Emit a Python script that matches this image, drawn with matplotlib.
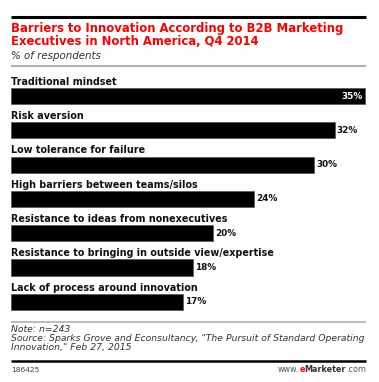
import matplotlib
matplotlib.use("Agg")
import matplotlib.pyplot as plt
from matplotlib.lines import Line2D

categories = [
    "Traditional mindset",
    "Risk aversion",
    "Low tolerance for failure",
    "High barriers between teams/silos",
    "Resistance to ideas from nonexecutives",
    "Resistance to bringing in outside view/expertise",
    "Lack of process around innovation",
]
values = [35, 32, 30, 24, 20, 18, 17]

title = "Barriers to Innovation According to B2B Marketing\nExecutives in North America, Q4 2014"
subtitle = "% of respondents"
note = ("Note: n=243\n"
        "Source: Sparks Grove and Econsultancy, \"The Pursuit of Standard Operating\n"
        "Innovation,\" Feb 27, 2015")
chart_id = "186425"

W, H = 379, 382
plt.rcParams["font.family"] = ["DejaVu Sans"]
fig = plt.figure(figsize=(W / 100, H / 100), dpi=100)
fig.patch.set_facecolor("white")


def fx(px):
    return px / W


def fy(py):
    return 1 - py / H


def hline(y, lw, color, x0=11, x1=366):
    fig.add_artist(Line2D([fx(x0), fx(x1)], [fy(y), fy(y)], lw=lw, color=color,
                          transform=fig.transFigure, solid_capstyle="butt"))


# header
hline(17, 2.2, "black")
fig.text(fx(11), fy(22), title, color="#ff0000", fontsize=8.4, fontweight="bold",
         va="top", ha="left", linespacing=1.0)
fig.text(fx(11), fy(51), subtitle, color="#333333", fontsize=7.4, style="italic",
         va="top", ha="left")
hline(66, 1.5, "#b0b0b0")

# bars
top_px, bot_px = 68.6, 319
ax = fig.add_axes([fx(11), fy(bot_px), fx(366) - fx(11), (bot_px - top_px) / H])
ypos = list(range(len(values)))
ax.barh(ypos, values, height=0.47, color="black", edgecolor="#555555", linewidth=0.5)
ax.set_xlim(0, 35.1)
ax.set_ylim(6.5, -0.8)
ax.axis("off")

for i, (c, v) in enumerate(zip(categories, values)):
    ax.text(0, i - 0.33, c, fontsize=6.9, fontweight="bold", color="#111111",
            va="baseline", ha="left")
    if i == 0:
        ax.text(v - 0.2, i, f"{v}%", fontsize=6.4, fontweight="bold", color="white",
                va="center", ha="right")
    else:
        ax.text(v + 0.2, i, f"{v}%", fontsize=6.4, fontweight="bold", color="#111111",
                va="center", ha="left")

# footer
hline(322, 1.2, "#b0b0b0")
fig.text(fx(11), fy(325), note, fontsize=6.7, style="italic", color="#333333",
         va="top", ha="left", linespacing=1.0)
hline(361, 1.8, "black")
fig.text(fx(11), fy(370), chart_id, fontsize=5.4, color="#444444", va="center", ha="left")

# www.eMarketer.com, built from right to left
renderer = fig.canvas.get_renderer()
parts = [("www.", "normal", "#555555"), ("e", "bold", "#ff0000"),
         ("Marketer", "bold", "#333333"), (".com", "normal", "#555555")]
x = 366
for txt, wt, col in reversed(parts):
    t = fig.text(fx(x), fy(370), txt, fontsize=5.8, fontweight=wt, color=col,
                 va="center", ha="right")
    w, _, _ = renderer.get_text_width_height_descent(txt, t.get_fontproperties(), ismath=False)
    x -= w

fig.savefig("out.png", dpi=100, facecolor="white")
